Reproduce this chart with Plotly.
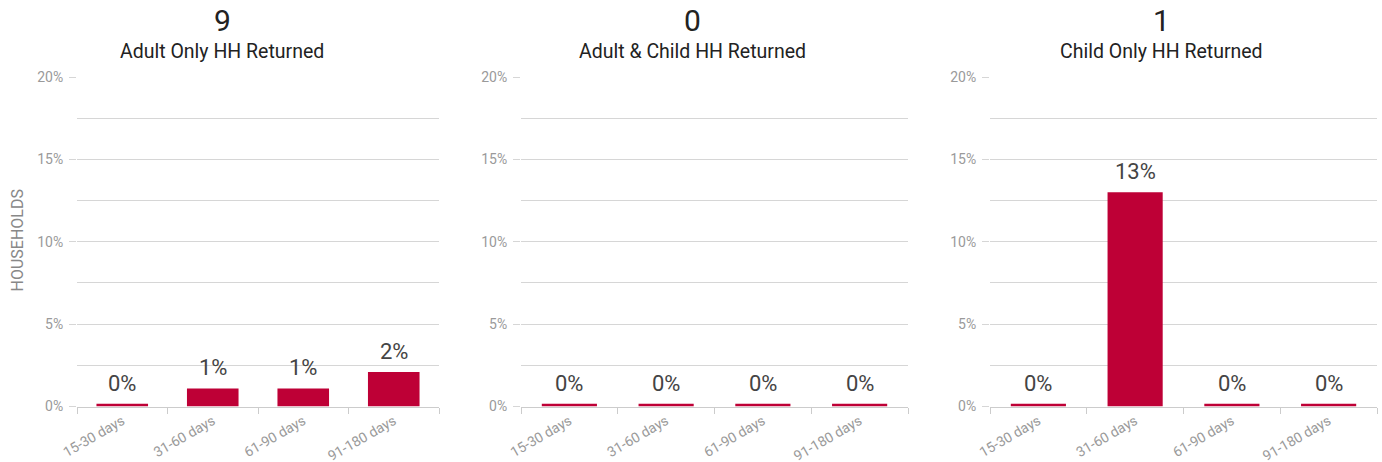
import plotly.graph_objects as go

# ---- data ----
categories = ["15-30 days", "31-60 days", "61-90 days", "91-180 days"]
panel_totals = ["9", "0", "1"]
panel_titles = ["Adult Only HH Returned", "Adult & Child HH Returned", "Child Only HH Returned"]
adult_only = [0.0, 1.1, 1.1, 2.1]
adult_child = [0.0, 0.0, 0.0, 0.0]
child_only = [0.0, 13.0, 0.0, 0.0]
y_ticks = [0, 5, 10, 15, 20]
y_tick_labels = ["0%", "5%", "10%", "15%", "20%"]

# ---- layout constants ----
W, H = 1382, 462
x_domains_px = [(77, 439), (521, 908), (990, 1377)]
title_centers_px = [222, 692, 1161]
y0_px, ytop_px = 406.5, 77
min_visible = 0.16  # zero-valued bars still drawn as a thin sliver
bar_color = "#BE0036"
grid_color = "#d6d6d6"
tick_gray = "#9a9a9a"
font_family = "Roboto, Arial, sans-serif"

series = [adult_only, adult_child, child_only]

fig = go.Figure()
annotations = []
layout_axes = {}

for i, vals in enumerate(series):
    n = "" if i == 0 else str(i + 1)
    xa, ya = "x" + n, "y" + n
    shown = [max(v, min_visible) for v in vals]
    fig.add_trace(go.Bar(
        x=categories, y=shown, xaxis=xa, yaxis=ya,
        marker=dict(color=bar_color, line=dict(width=0)),
        width=0.57, hoverinfo="skip", showlegend=False,
    ))
    for c, v, s in zip(categories, vals, shown):
        annotations.append(dict(
            x=c, y=s, xref=xa, yref=ya, text=f"{round(v)}%",
            showarrow=False, yanchor="bottom", yshift=6,
            font=dict(size=22, color="#444444", family=font_family),
        ))
    d0, d1 = x_domains_px[i]
    layout_axes["xaxis" + n] = dict(
        domain=[d0 / W, d1 / W], anchor=ya, type="category",
        tickson="boundaries", ticks="outside", ticklen=6, tickcolor="#cccccc",
        showline=True, linecolor="#cccccc", linewidth=1, showgrid=False,
        tickangle=-30, tickfont=dict(size=14, color=tick_gray, family=font_family),
        automargin=False, fixedrange=True,
    )
    layout_axes["yaxis" + n] = dict(
        domain=[1 - y0_px / H, 1 - ytop_px / H], anchor=xa,
        range=[0, 20], tickvals=y_ticks, ticktext=y_tick_labels,
        ticks="outside", ticklen=7, tickcolor=grid_color,
        showgrid=True, gridcolor=grid_color, gridwidth=1, zeroline=False,
        showline=False, ticklabelstandoff=3,
        minor=dict(dtick=2.5, showgrid=True, gridcolor=grid_color, ticks=""),
        tickfont=dict(size=14, color=tick_gray, family=font_family),
        automargin=False, fixedrange=True,
    )
    cx = title_centers_px[i] / W
    annotations.append(dict(
        x=cx, y=1 - 21 / H, xref="paper", yref="paper", text=panel_totals[i],
        showarrow=False, xanchor="center", yanchor="middle",
        font=dict(size=30, color="#222222", family=font_family),
    ))
    annotations.append(dict(
        x=cx, y=1 - 52 / H, xref="paper", yref="paper", text=panel_titles[i],
        showarrow=False, xanchor="center", yanchor="middle",
        font=dict(size=19.5, color="#222222", family=font_family),
    ))

annotations.append(dict(
    x=16.5 / W, y=1 - 241 / H, xref="paper", yref="paper", text="HOUSEHOLDS",
    textangle=-90, showarrow=False, xanchor="center", yanchor="middle",
    font=dict(size=16, color="#888888", family=font_family),
))

fig.update_layout(
    width=W, height=H,
    margin=dict(l=0, r=0, t=0, b=0, autoexpand=False),
    paper_bgcolor="white", plot_bgcolor="white",
    annotations=annotations,
    bargap=0.43,
    font=dict(family=font_family),
    **layout_axes,
)

fig.write_html(
    "out.html",
    config={"displayModeBar": False},
    post_script="document.body.style.margin='0';document.body.style.overflow='hidden';",
)
